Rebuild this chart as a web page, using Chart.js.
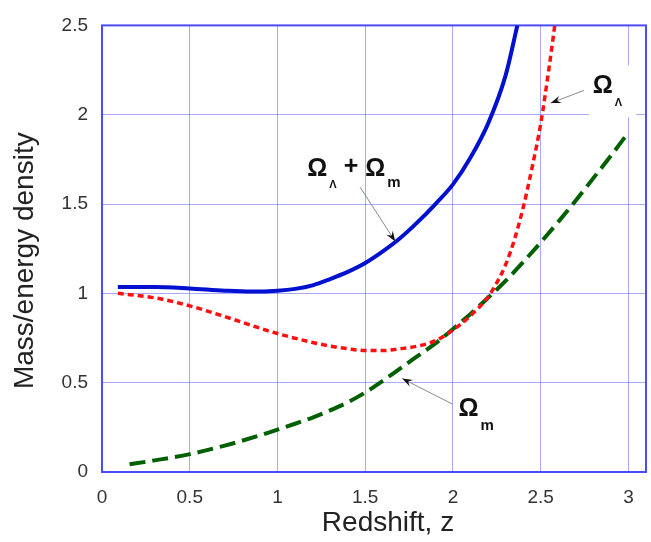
<!DOCTYPE html>
<html>
<head>
<meta charset="utf-8">
<script src="https://cdn.jsdelivr.net/npm/chart.js@4/dist/chart.umd.min.js"></script>
<style>
html,body{margin:0;padding:0;background:#fff;}
#wrap{width:651px;height:542px;}
</style>
</head>
<body>
<div id="wrap"><canvas id="c" width="651" height="542"></canvas></div>
<script>
// ---- data ----
const zTotal   = [0.09, 0.3, 0.5, 0.7, 0.85, 1.0, 1.1, 1.2, 1.3, 1.4, 1.5, 1.6, 1.7, 1.8, 1.9, 2.0, 2.1, 2.2, 2.3, 2.367];
const omegaTotal = [1.035, 1.035, 1.027, 1.015, 1.01, 1.015, 1.025, 1.045, 1.08, 1.12, 1.17, 1.235, 1.31, 1.40, 1.50, 1.61, 1.76, 1.95, 2.22, 2.5];

const zLambda  = [0.09, 0.3, 0.5, 0.7, 0.9, 1.0, 1.2, 1.3, 1.4, 1.5, 1.6, 1.7, 1.8, 1.9, 2.0, 2.1, 2.2, 2.25, 2.3, 2.35, 2.4, 2.45, 2.5, 2.55, 2.58];
const omegaLambda = [1.0, 0.975, 0.93, 0.87, 0.805, 0.775, 0.725, 0.705, 0.69, 0.68, 0.68, 0.69, 0.705, 0.735, 0.795, 0.875, 0.98, 1.06, 1.16, 1.30, 1.48, 1.70, 1.95, 2.28, 2.5];

const zMatter  = [0.157, 0.3, 0.5, 0.7, 0.9, 1.0, 1.1, 1.2, 1.3, 1.4, 1.5, 1.6, 1.7, 1.8, 1.9, 2.0, 2.1, 2.2, 2.3, 2.4, 2.5, 2.6, 2.7, 2.8, 2.9, 2.98];
const omegaMatter = [0.043, 0.065, 0.10, 0.148, 0.205, 0.237, 0.27, 0.305, 0.345, 0.39, 0.445, 0.51, 0.58, 0.65, 0.72, 0.80, 0.885, 0.975, 1.07, 1.175, 1.285, 1.40, 1.52, 1.645, 1.77, 1.875];

const xTickStep = 0.5, xMin = 0, xMax = 3.1;
const yTickStep = 0.5, yMin = 0, yMax = 2.5;
const xTitle = 'Redshift, z';
const yTitle = 'Mass/energy density';

function pts(xs, ys){ return xs.map((x,i)=>({x:x, y:ys[i]})); }
function fmt(v){ return String(Math.round(v*100)/100); }

const gridCol = 'rgba(110,110,255,0.6)';
const frameCol = '#4b4bff';
const font = '"Liberation Sans", Arial, sans-serif';

const annotate = {
  id:'annotate',
  beforeDatasetsDraw(chart){
    const {ctx, chartArea:a, scales:{x, y}} = chart;
    ctx.save();
    ctx.strokeStyle = frameCol; ctx.lineWidth = 2;
    ctx.strokeRect(a.left, a.top, a.right-a.left, a.bottom-a.top);
    // white box behind Omega_Lambda label
    ctx.fillStyle = '#fff';
    const bx0 = x.getPixelForValue(2.774), bx1 = x.getPixelForValue(3.043);
    const by0 = y.getPixelForValue(2.275), by1 = y.getPixelForValue(1.987);
    ctx.fillRect(bx0, by0, bx1-bx0, by1-by0);
    ctx.restore();
  },
  afterDatasetsDraw(chart){
    const {ctx, chartArea:a, scales:{x, y}} = chart;
    const P = (vx, vy) => [x.getPixelForValue(vx), y.getPixelForValue(vy)];
    ctx.save();
    function arrow(from, to){
      const [x0,y0] = P(...from), [x1,y1] = P(...to);
      ctx.strokeStyle = '#8a8a8a'; ctx.lineWidth = 1;
      ctx.beginPath(); ctx.moveTo(x0,y0); ctx.lineTo(x1,y1); ctx.stroke();
      const ang = Math.atan2(y1-y0, x1-x0), L = 11, W = 0.35;
      ctx.fillStyle = '#111';
      ctx.beginPath();
      ctx.moveTo(x1,y1);
      ctx.lineTo(x1 - L*Math.cos(ang-W), y1 - L*Math.sin(ang-W));
      ctx.lineTo(x1 - 0.6*L*Math.cos(ang), y1 - 0.6*L*Math.sin(ang));
      ctx.lineTo(x1 - L*Math.cos(ang+W), y1 - L*Math.sin(ang+W));
      ctx.closePath(); ctx.fill();
    }
    const big = 'bold 25px ' + font;
    const subL = 'bold 11px ' + font;
    const subM = 'bold 15px ' + font;
    ctx.fillStyle = '#111'; ctx.textBaseline = 'alphabetic'; ctx.textAlign = 'left';
    function omega(px, py, sub, subFont, subDy){
      ctx.font = big; ctx.fillText('\u03A9', px, py);
      const w = ctx.measureText('\u03A9').width;
      ctx.font = subFont; ctx.fillText(sub, px + w + 2, py + subDy);
      return px + w + 2 + ctx.measureText(sub).width;
    }
    // Omega_Lambda + Omega_m
    let [lx, ly] = P(1.17, 1.655);
    let ex = omega(lx, ly, '\u039B', subL, 12);
    ctx.font = big; ctx.fillText('+', ex + 7, ly - 2);
    const pw = ctx.measureText('+').width;
    omega(ex + 7 + pw + 7, ly, 'm', subM, 11);
    arrow([1.471, 1.594], [1.671, 1.291]);
    // Omega_m
    [lx, ly] = P(2.031, 0.314);
    omega(lx, ly, 'm', subM, 14);
    arrow([1.997, 0.380], [1.711, 0.523]);
    // Omega_Lambda
    [lx, ly] = P(2.797, 2.12);
    omega(lx, ly, '\u039B', subL, 13);
    arrow([2.746, 2.136], [2.557, 2.065]);

    // axis titles
    ctx.fillStyle = '#222';
    ctx.font = '28px ' + font;
    ctx.textAlign = 'center'; ctx.textBaseline = 'alphabetic';
    ctx.fillText(xTitle, (a.left + a.right)/2 + 14, 531);
    ctx.translate(33, (a.top + a.bottom)/2 + 12);
    ctx.rotate(-Math.PI/2);
    ctx.fillText(yTitle, 0, 0);
    ctx.restore();
  }
};

new Chart(document.getElementById('c'), {
  type: 'line',
  data: {
    datasets: [
      { data: pts(zTotal, omegaTotal), borderColor:'#0010d0', borderWidth:4, pointRadius:0, cubicInterpolationMode:'monotone', fill:false },
      { data: pts(zLambda, omegaLambda), borderColor:'#ff1010', borderWidth:3.5, borderDash:[6,4], pointRadius:0, cubicInterpolationMode:'monotone', fill:false },
      { data: pts(zMatter, omegaMatter), borderColor:'#006000', borderWidth:4, borderDash:[16,7], pointRadius:0, cubicInterpolationMode:'monotone', fill:false }
    ]
  },
  options: {
    responsive:false, animation:false,
    layout:{ padding:{ top:19, right:5, left:0, bottom:0 } },
    plugins:{ legend:{display:false}, tooltip:{enabled:false} },
    scales:{
      x:{
        type:'linear', min:xMin, max:xMax,
        afterFit(s){ s.height = 70; },
        ticks:{ stepSize:xTickStep, includeBounds:false, color:'#333', font:{family:font, size:19}, padding:14, maxRotation:0, callback:fmt },
        grid:{ color:gridCol, lineWidth:1, drawTicks:false },
        border:{ display:false },
        title:{ display:false }
      },
      y:{
        min:yMin, max:yMax,
        afterFit(s){ s.width = 102; },
        ticks:{ stepSize:yTickStep, color:'#333', font:{family:font, size:19}, padding:14, callback:fmt },
        grid:{ color:gridCol, lineWidth:1, drawTicks:false },
        border:{ display:false },
        title:{ display:false }
      }
    }
  },
  plugins:[annotate]
});
</script>
</body>
</html>
